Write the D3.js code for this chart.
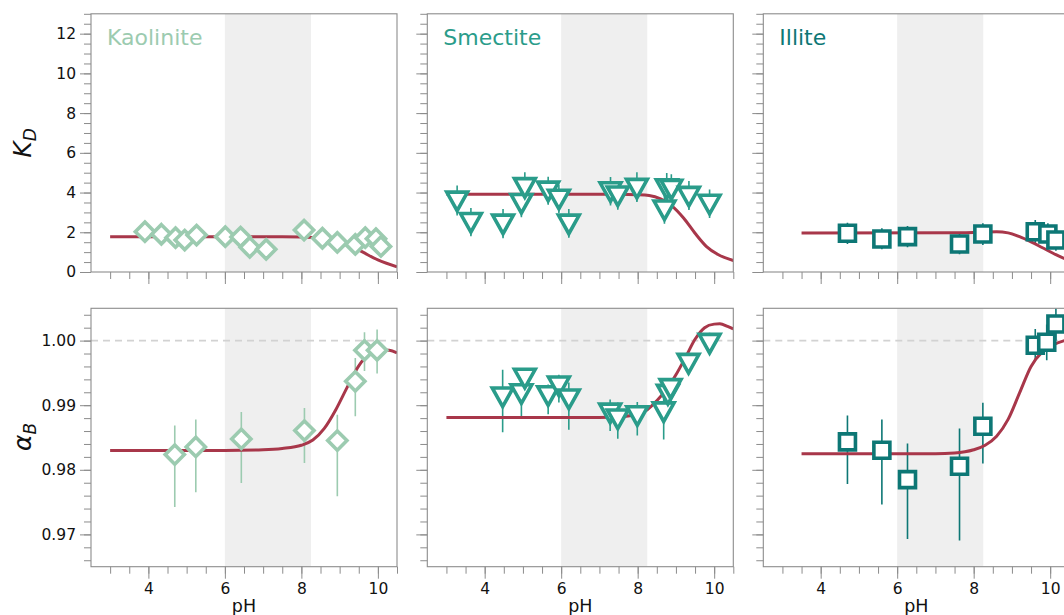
<!DOCTYPE html>
<html><head><meta charset="utf-8">
<script src="https://cdn.jsdelivr.net/npm/d3@7"></script>
<style>
html,body{margin:0;padding:0;background:#fff;overflow:hidden}
svg{display:block;font-family:"DejaVu Sans",sans-serif}
</style></head>
<body>
<svg id="chart" width="1064" height="615"></svg>
<script>
// ---------------- data ----------------
const minerals = ["Kaolinite", "Smectite", "Illite"];
const mineralColors = ["#9ccbb0", "#2a9c8a", "#0d7775"];
const markerShapes = ["diamond", "triangle", "square"];

// K_D measurements
const kaoKdPH = [3.91, 4.34, 4.71, 4.95, 5.26, 6.01, 6.41, 6.65, 7.08, 8.07, 8.55, 8.94, 9.41, 9.67, 9.95, 10.08];
const kaoKd   = [2.03, 1.90, 1.73, 1.61, 1.86, 1.78, 1.76, 1.24, 1.14, 2.11, 1.70, 1.49, 1.39, 1.73, 1.68, 1.29];
const kaoKdLo = [2.03, 1.90, 1.73, 1.61, 1.86, 1.78, 1.76, 1.24, 1.14, 2.11, 1.70, 1.49, 1.39, 1.73, 1.68, 1.29];
const kaoKdHi = [2.03, 1.90, 1.73, 1.61, 1.86, 1.78, 1.76, 1.24, 1.14, 2.11, 1.70, 1.49, 1.39, 1.73, 1.68, 1.29];

const smeKdPH = [3.28, 3.64, 4.48, 4.96, 5.05, 5.66, 5.94, 6.20, 7.29, 7.48, 7.98, 8.70, 8.76, 8.88, 9.34, 9.88];
const smeKd   = [3.58, 2.50, 2.42, 3.46, 4.26, 4.08, 3.67, 2.42, 4.05, 3.84, 4.22, 3.13, 4.20, 4.17, 3.82, 3.42];
const smeKdLo = [2.84, 1.80, 1.70, 2.76, 3.56, 3.38, 2.97, 1.72, 3.35, 3.14, 3.52, 2.43, 3.50, 3.47, 3.12, 2.72];
const smeKdHi = [4.35, 3.22, 3.17, 4.18, 5.02, 4.80, 4.40, 3.17, 4.78, 4.56, 5.02, 3.85, 4.98, 4.92, 4.58, 4.16];

const illKdPH = [4.70, 5.60, 6.27, 7.63, 8.24, 9.61, 9.94, 10.15];
const illKd   = [1.95, 1.66, 1.78, 1.41, 1.91, 2.03, 1.91, 1.61];
const illKdLo = [1.41, 1.14, 1.24, 0.89, 1.36, 1.45, 1.37, 1.07];
const illKdHi = [2.48, 2.20, 2.32, 1.91, 2.45, 2.62, 2.45, 2.15];

// alpha_B measurements
const kaoAPH = [4.69, 5.24, 6.43, 8.08, 8.94, 9.41, 9.65, 9.98];
const kaoA   = [0.98235, 0.98354, 0.98478, 0.98607, 0.98452, 0.99370, 0.99850, 0.99850];
const kaoALo = [0.97426, 0.97652, 0.97797, 0.98107, 0.97590, 0.98828, 0.99530, 0.99490];
const kaoAHi = [0.98684, 0.98777, 0.98896, 0.98958, 0.98854, 0.99732, 1.00130, 1.00170];

const smeAPH = [4.47, 4.96, 5.05, 5.66, 5.94, 6.20, 7.28, 7.48, 7.99, 8.68, 8.79, 8.86, 9.33, 9.88];
const smeA   = [0.9913, 0.9918, 0.9942, 0.9915, 0.9930, 0.9910, 0.9888, 0.9879, 0.9884, 0.9890, 0.9917, 0.9926, 0.9965, 0.9996];
const smeALo = [0.9858, 0.9883, 0.9925, 0.9886, 0.9904, 0.9862, 0.9860, 0.9848, 0.9853, 0.9847, 0.9895, 0.9905, 0.9948, 0.9980];
const smeAHi = [0.9955, 0.9950, 0.9956, 0.9932, 0.9947, 0.9935, 0.9909, 0.9904, 0.9905, 0.9919, 0.9935, 0.9942, 0.9980, 1.0012];

const illAPH = [4.70, 5.60, 6.27, 7.63, 8.24, 9.61, 9.91, 10.15];
const illA   = [0.98432, 0.98302, 0.97848, 0.98055, 0.98673, 0.99928, 0.99974, 1.00258];
const illALo = [0.97782, 0.97461, 0.96930, 0.96904, 0.98096, 0.99680, 0.99695, 1.00000];
const illAHi = [0.98839, 0.98777, 0.98406, 0.98638, 0.99036, 1.00181, 1.00248, 1.00500];

// model curves
const kaoKdCurvePH = [3.0, 7.5, 8.0, 8.5, 9.0, 9.5, 10.0, 10.5];
const kaoKdCurve   = [1.78, 1.78, 1.76, 1.69, 1.50, 1.10, 0.61, 0.26];
const smeKdCurvePH = [3.0, 7.5, 8.0, 8.3, 8.6, 8.9, 9.2, 9.5, 9.8, 10.1, 10.5];
const smeKdCurve   = [3.91, 3.91, 3.89, 3.85, 3.68, 3.32, 2.72, 1.95, 1.28, 0.88, 0.58];
const illKdCurvePH = [3.5, 7.5, 8.2, 8.6, 8.9, 9.2, 9.5, 9.8, 10.1, 10.4, 10.5];
const illKdCurve   = [1.96, 1.97, 2.00, 2.03, 1.97, 1.78, 1.52, 1.22, 0.92, 0.66, 0.60];

const kaoACurvePH = [3.0, 6.0, 7.0, 7.5, 8.0, 8.3, 8.6, 8.9, 9.2, 9.5, 9.8, 10.1, 10.3, 10.5];
const kaoACurve   = [0.9830, 0.9830, 0.9831, 0.9833, 0.9838, 0.9846, 0.9864, 0.9893, 0.9928, 0.9961, 0.9980, 0.99855, 0.9985, 0.9981];
const smeACurvePH = [3.0, 7.0, 7.5, 8.0, 8.25, 8.5, 8.75, 9.0, 9.25, 9.5, 9.75, 10.0, 10.15, 10.35, 10.5];
const smeACurve   = [0.9881, 0.9881, 0.9882, 0.9886, 0.9893, 0.9907, 0.9924, 0.9947, 0.9974, 1.0002, 1.0020, 1.00255, 1.0026, 1.0022, 1.0018];
const illACurvePH = [3.5, 7.0, 7.5, 8.0, 8.3, 8.6, 8.9, 9.2, 9.5, 9.8, 10.1, 10.5];
const illACurve   = [0.9825, 0.9825, 0.9826, 0.9831, 0.9838, 0.9852, 0.9878, 0.9919, 0.9960, 0.9983, 0.9994, 1.0002];

const shadeRange = [6.0, 8.25];
const xDomain = [2.5, 10.5];
const xMajorTicks = [4, 6, 8, 10];
const kdDomain = [0, 13];
const kdMajorTicks = [0, 2, 4, 6, 8, 10, 12];
const aDomain = [0.965, 1.005];
const aMajorTicks = [0.97, 0.98, 0.99, 1.00];
const aRef = 1.0;

const kdSets = [
  {ph: kaoKdPH, v: kaoKd, lo: kaoKdLo, hi: kaoKdHi, cph: kaoKdCurvePH, cv: kaoKdCurve},
  {ph: smeKdPH, v: smeKd, lo: smeKdLo, hi: smeKdHi, cph: smeKdCurvePH, cv: smeKdCurve},
  {ph: illKdPH, v: illKd, lo: illKdLo, hi: illKdHi, cph: illKdCurvePH, cv: illKdCurve}
];
const aSets = [
  {ph: kaoAPH, v: kaoA, lo: kaoALo, hi: kaoAHi, cph: kaoACurvePH, cv: kaoACurve},
  {ph: smeAPH, v: smeA, lo: smeALo, hi: smeAHi, cph: smeACurvePH, cv: smeACurve},
  {ph: illAPH, v: illA, lo: illALo, hi: illAHi, cph: illACurvePH, cv: illACurve}
];

// ---------------- layout ----------------
const svg = d3.select("#chart");
const colX = [91, 427.3, 763.3];
const panelW = 306;
const rows = [{y: 13.8, h: 258.2}, {y: 308.3, h: 258.4}];
const spineColor = "#8c8c8c";
const curveColor = "#a8374a";

function markerPath(shape) {
  if (shape === "diamond") return "M0,-9.6L9.6,0L0,9.6L-9.6,0Z";
  if (shape === "triangle") return "M-10.4,-8.8L10.4,-8.8L0,9.8Z";
  return "M-8,-8L8,-8L8,8L-8,8Z";
}

function drawPanel(ci, ri) {
  const x0 = colX[ci], r = rows[ri];
  const g = svg.append("g");
  const x = d3.scaleLinear().domain(xDomain).range([x0, x0 + panelW]);
  const y = ri === 0
    ? d3.scaleLinear().domain(kdDomain).range([r.y + r.h, r.y])
    : d3.scaleLinear().domain(aDomain).range([r.y + r.h, r.y]);
  const set = ri === 0 ? kdSets[ci] : aSets[ci];
  const color = mineralColors[ci];

  const clipId = `clip${ci}${ri}`;
  svg.append("clipPath").attr("id", clipId).append("rect")
    .attr("x", x0).attr("y", r.y).attr("width", panelW).attr("height", r.h);

  // shaded pH window
  g.append("rect")
    .attr("x", x(shadeRange[0])).attr("y", r.y)
    .attr("width", x(shadeRange[1]) - x(shadeRange[0])).attr("height", r.h)
    .attr("fill", "#efefef");

  // reference dashed line
  if (ri === 1) {
    g.append("line")
      .attr("x1", x0).attr("x2", x0 + panelW)
      .attr("y1", y(aRef)).attr("y2", y(aRef))
      .attr("stroke", "#d2d2d2").attr("stroke-width", 1.6)
      .attr("stroke-dasharray", "7,5");
  }

  // axes
  const yMinor = ri === 0 ? d3.range(0, 13.01, 0.5) : d3.range(0.966, 1.0045, 0.002);
  const yMajor = ri === 0 ? kdMajorTicks : aMajorTicks;
  const xMinor = d3.range(3, 10.51, 0.5);

  const axStyle = sel => {
    sel.select(".domain").remove();
    sel.selectAll(".tick line").attr("stroke", spineColor).attr("stroke-width", 1);
    sel.selectAll(".tick text").attr("fill", "#111").style("font-size", "15.5px")
      .style("font-family", "DejaVu Sans, sans-serif");
  };
  g.append("g").attr("transform", `translate(0,${r.y + r.h})`)
    .call(d3.axisBottom(x).tickValues(xMinor).tickSize(7).tickFormat(""))
    .call(axStyle);
  g.append("g").attr("transform", `translate(0,${r.y + r.h})`)
    .call(d3.axisBottom(x).tickValues(xMajorTicks).tickSize(12).tickPadding(4)
      .tickFormat(ri === 1 ? d3.format("d") : ""))
    .call(axStyle);
  g.append("g").attr("transform", `translate(${x0},0)`)
    .call(d3.axisLeft(y).tickValues(yMinor).tickSize(7).tickFormat(""))
    .call(axStyle);
  g.append("g").attr("transform", `translate(${x0},0)`)
    .call(d3.axisLeft(y).tickValues(yMajor).tickSize(11).tickPadding(4)
      .tickFormat(ci === 0 ? (ri === 0 ? d3.format("d") : d3.format(".2f")) : ""))
    .call(axStyle);

  const inner = g.append("g").attr("clip-path", `url(#${clipId})`);

  // error bars
  inner.selectAll("line.err").data(set.ph).enter().append("line")
    .attr("x1", d => x(d)).attr("x2", d => x(d))
    .attr("y1", (d, i) => y(set.lo[i])).attr("y2", (d, i) => y(set.hi[i]))
    .attr("stroke", color).attr("stroke-width", 1.6);

  // model curve
  const pts = set.cph.map((p, i) => [p, set.cv[i]]);
  inner.append("path").datum(pts)
    .attr("d", d3.line().x(d => x(d[0])).y(d => y(d[1])).curve(d3.curveMonotoneX))
    .attr("fill", "none").attr("stroke", curveColor).attr("stroke-width", 3);

  // markers
  inner.selectAll("path.mk").data(set.ph).enter().append("path")
    .attr("d", markerPath(markerShapes[ci]))
    .attr("transform", (d, i) => `translate(${x(d)},${y(set.v[i])})`)
    .attr("fill", "#fff").attr("stroke", color)
    .attr("stroke-width", 3.6)
    .attr("stroke-linejoin", "miter");

  // frame
  g.append("rect").attr("x", x0).attr("y", r.y).attr("width", panelW).attr("height", r.h)
    .attr("fill", "none").attr("stroke", spineColor).attr("stroke-width", 1.1);

  if (ri === 0) {
    g.append("text").attr("x", x0 + 16).attr("y", 44.5)
      .attr("fill", color).style("font-size", "22px").text(minerals[ci]);
  } else {
    g.append("text").attr("x", x0 + panelW / 2).attr("y", 612)
      .attr("text-anchor", "middle").attr("fill", "#111")
      .style("font-size", "17.5px").text("pH");
  }
}

for (let ri = 0; ri < 2; ri++) for (let ci = 0; ci < 3; ci++) drawPanel(ci, ri);

// y labels
const kdLab = svg.append("text").attr("transform", "translate(31,143) rotate(-90)")
  .attr("text-anchor", "middle").attr("fill", "#111").style("font-size", "25px");
kdLab.append("tspan").style("font-style", "italic").text("K");
kdLab.append("tspan").style("font-style", "italic").style("font-size", "17px").attr("dy", 5).text("D");

const aLab = svg.append("text").attr("transform", "translate(31,437) rotate(-90)")
  .attr("text-anchor", "middle").attr("fill", "#111").style("font-size", "25px");
aLab.append("tspan").style("font-style", "italic").text("α");
aLab.append("tspan").style("font-style", "italic").style("font-size", "17px").attr("dy", 5).text("B");
</script>
</body></html>
